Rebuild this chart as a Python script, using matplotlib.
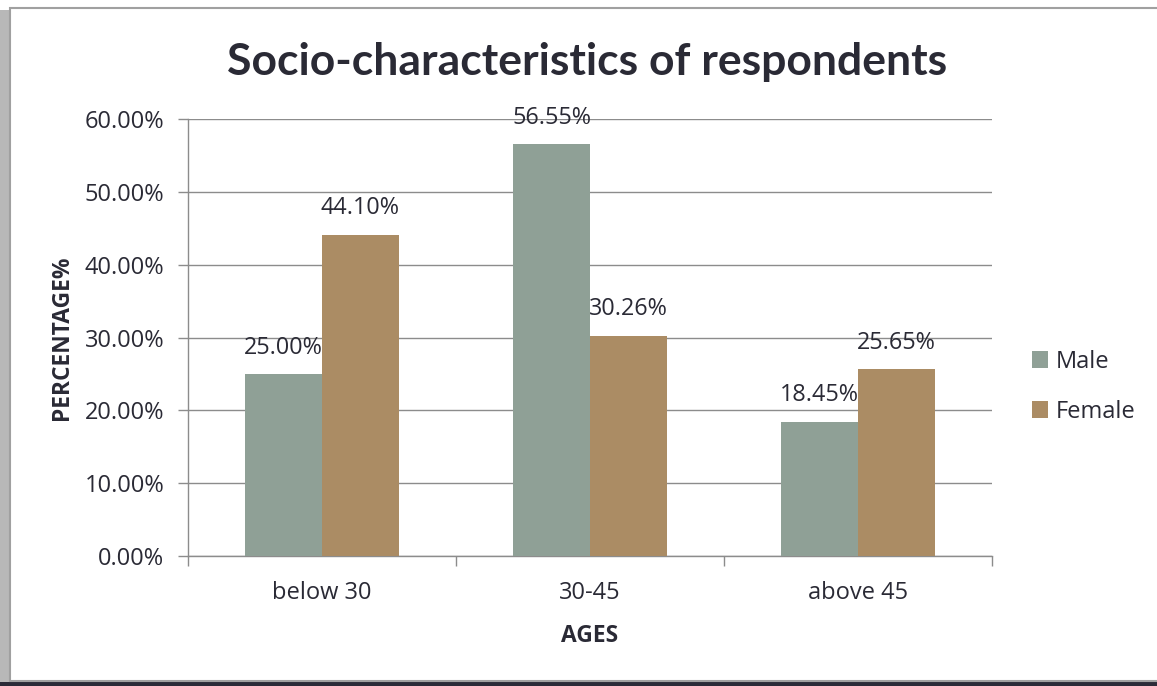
import matplotlib.pyplot as plt
import numpy as np
from matplotlib.patches import Rectangle

# Age groups and share of respondents (%)
AGE_GROUPS = ["below 30", "30-45", "above 45"]
MALE = [25.00, 56.55, 18.45]
FEMALE = [44.10, 30.26, 25.65]
Y_TICKS = [0, 10, 20, 30, 40, 50, 60]

C_MALE = "#8FA096"
C_FEMALE = "#AB8C64"
C_TEXT = "#2A2A35"
C_GRID = "#8C8C8C"

plt.rcParams["font.family"] = ["Open Sans", "DejaVu Sans"]

fig = plt.figure(figsize=(11.57, 6.86), dpi=100)

# chart frame with shadow
fig.patches.append(Rectangle((0, 0), 1, 0.006, transform=fig.transFigure,
                             facecolor="#2B2B38", edgecolor="none", zorder=-10))
fig.patches.append(Rectangle((0.0, 0.006), 0.009, 0.98, transform=fig.transFigure,
                             facecolor="#B8B8B8", edgecolor="none", zorder=-10))
fig.patches.append(Rectangle((0.009, 0.008), 1.2, 0.98, transform=fig.transFigure,
                             facecolor="white", edgecolor="#A0A0A0", linewidth=1.5, zorder=-9))

ax = fig.add_axes([0.1625, 0.1895, 0.6949, 0.637])
ax.patch.set_visible(False)

x = np.arange(len(AGE_GROUPS))
width = 0.287
bars_m = ax.bar(x - width / 2, MALE, width, color=C_MALE, label="Male", zorder=3)
bars_f = ax.bar(x + width / 2, FEMALE, width, color=C_FEMALE, label="Female", zorder=3)

for bars, vals in [(bars_m, MALE), (bars_f, FEMALE)]:
    for b, v in zip(bars, vals):
        ax.annotate(f"{v:.2f}%", (b.get_x() + b.get_width() / 2, v),
                    xytext=(0, 19), textcoords="offset points",
                    ha="center", va="center", fontsize=16.8, color=C_TEXT, zorder=4)

ax.set_xlim(-0.5, len(AGE_GROUPS) - 0.5)
ax.set_ylim(0, 60)
ax.set_yticks(Y_TICKS)
ax.set_yticklabels([f"{t:.2f}%" for t in Y_TICKS], fontsize=17, color=C_TEXT)
ax.set_xticks(x)
ax.set_xticklabels(AGE_GROUPS, fontsize=17, color=C_TEXT)
ax.tick_params(axis="x", length=0, pad=18)
ax.tick_params(axis="y", length=7, width=1, color=C_GRID, pad=10)

# category separators on the x axis
ax.set_xticks(np.arange(len(AGE_GROUPS) + 1) - 0.5, minor=True)
ax.tick_params(axis="x", which="minor", length=7, width=1, color=C_GRID)

ax.grid(axis="y", color=C_GRID, linewidth=1, zorder=0)
ax.set_axisbelow(True)
for side in ["top", "right"]:
    ax.spines[side].set_visible(False)
for side in ["left", "bottom"]:
    ax.spines[side].set_color(C_GRID)
    ax.spines[side].set_linewidth(1)

ax.set_ylabel("PERCENTAGE%", fontsize=16.4, fontweight="bold", color=C_TEXT, labelpad=8)
ax.set_xlabel("AGES", fontsize=16.4, fontweight="bold", color=C_TEXT, labelpad=14)

fig.text(0.507, 0.91, "Socio-characteristics of respondents", ha="center", va="center",
         fontsize=32, fontweight="bold", color=C_TEXT, family=["Lato", "DejaVu Sans"])

ax.legend(loc="center left", bbox_to_anchor=(1.023, 0.387), frameon=False,
          fontsize=17, handlelength=0.7, handleheight=0.7, handletextpad=0.3,
          labelspacing=1.1, labelcolor=C_TEXT)

fig.savefig("out.png", dpi=100)
